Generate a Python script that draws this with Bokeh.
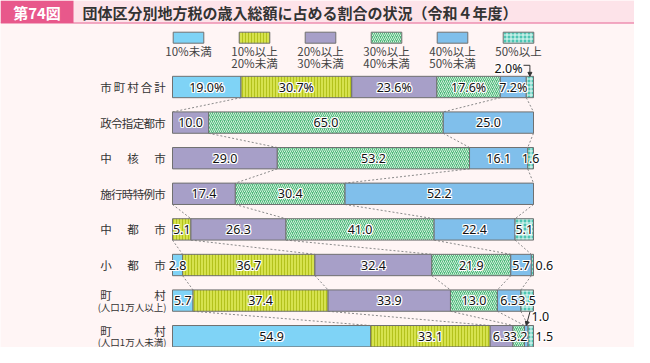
from bokeh.plotting import figure
from bokeh.models import Range1d, ColumnDataSource, Arrow, NormalHead
from bokeh.core.properties import value
from bokeh.embed import file_html
from bokeh.resources import INLINE

# ---------------- data ----------------
title_no = "第74図"
title_text = "団体区分別地方税の歳入総額に占める割合の状況（令和４年度）"
row_label_top = ["市町村合計", "政令指定都市", "中核市", "施行時特例市", "中都市", "小都市", "町村", "町村"]
row_label_sub = ["", "", "", "", "", "", "(人口1万人以上)", "(人口1万人未満)"]
legend_line1 = ["10%未満", "10%以上", "20%以上", "30%以上", "40%以上", "50%以上"]
legend_line2 = ["", "20%未満", "30%未満", "40%未満", "50%未満", ""]

lt10   = [19.0, 0.0, 0.0, 0.0, 0.0, 2.8, 5.7, 54.9]
p10_20 = [30.7, 0.0, 0.0, 0.0, 5.1, 36.7, 37.4, 33.1]
p20_30 = [23.6, 10.0, 29.0, 17.4, 26.3, 32.4, 33.9, 6.3]
p30_40 = [17.6, 65.0, 53.2, 30.4, 41.0, 21.9, 13.0, 3.2]
p40_50 = [7.2, 25.0, 16.1, 52.2, 22.4, 5.7, 6.5, 1.0]
ge50   = [2.0, 0.0, 1.6, 0.0, 5.1, 0.6, 3.5, 1.5]
series = [lt10, p10_20, p20_30, p30_40, p40_50, ge50]

# boundaries (after category k, 1-based) joined by dotted lines between rows
gap_links = [[1, 4, 5], [3, 4, 5], [3, 4, 5], [2, 3, 4, 5], [1, 2, 3, 4, 5], [1, 2, 3, 4, 5], [1, 2, 3, 4, 5]]
# labels drawn outside the bar: (row, category)
outside = {(0, 5), (5, 5), (7, 4), (7, 5)}

# ---------------- layout ----------------
W, H = 634, 347
X0, PXW = 172.0, 3.61      # px of 0 %, px per percent
Y0, ROWH = 86.5, 35.6      # px of first row centre, px per row
BAR_H = 0.6

def fx(px):
    return (px - X0) / PXW

def fy(py):
    return (py - Y0) / ROWH

BG = "#fff5f5"
p = figure(width=W, height=H, output_backend="svg", toolbar_location=None, tools="",
           x_range=Range1d(fx(0), fx(W)), y_range=Range1d(fy(H), fy(0)),
           x_axis_location=None, y_axis_location=None, min_border=0)
p.grid.visible = False
p.outline_line_color = None
p.background_fill_color = BG
p.border_fill_color = BG

JP = value("Noto Sans CJK JP")
NUM = value("Noto Sans")

# title bar
TB_TOP, TB_BOT, TB_MID = 0, 22.5, 11.5
p.quad(left=fx(0), right=fx(W), top=fy(TB_TOP), bottom=fy(TB_BOT), fill_color="#fde3e9", line_color=None)
p.segment(x0=fx(0), x1=fx(W), y0=fy(TB_BOT), y1=fy(TB_BOT), line_color="#ee8fb0", line_width=1.5)
p.quad(left=fx(0), right=fx(73), top=fy(TB_TOP), bottom=fy(TB_BOT), fill_color="#e8588b", line_color=None)
p.text(x=[fx(36.5)], y=[fy(TB_MID)], text=[title_no], text_font=JP, text_font_size="15px",
       text_font_style="bold", text_color="white", text_align="center", text_baseline="middle")
p.text(x=[fx(82)], y=[fy(TB_MID)], text=[title_text], text_font=JP, text_font_size="15px",
       text_font_style="bold", text_color="#333333", text_align="left", text_baseline="middle")

styles = [
    dict(fill_color="#7fd3f6"),
    dict(fill_color="#d6e24e", hatch_pattern="|", hatch_color="#b3c21c", hatch_scale=3, hatch_weight=1),
    dict(fill_color="#a79fc8"),
    dict(fill_color="#4fb97c", hatch_pattern="/", hatch_color="#d2efdb", hatch_scale=4, hatch_weight=1),
    dict(fill_color="#80bfeb"),
    dict(fill_color="#4ec5b3", hatch_pattern="+", hatch_color="#e8fbf7", hatch_scale=4, hatch_weight=1),
]
EDGE = dict(line_color="#707070", line_width=1)

# legend
for i in range(6):
    cx = 188.0 + 66.0 * i
    p.quad(left=fx(cx - 15.3), right=fx(cx + 15.3), top=fy(31.7), bottom=fy(42.7), **styles[i], **EDGE)
    p.text(x=[fx(cx)], y=[fy(50.5)], text=[legend_line1[i]], text_font=JP, text_font_size="11.5px",
           text_color="#444444", text_align="center", text_baseline="middle")
    if legend_line2[i]:
        p.text(x=[fx(cx)], y=[fy(62.8)], text=[legend_line2[i]], text_font=JP, text_font_size="11.5px",
               text_color="#444444", text_align="center", text_baseline="middle")

# cumulative boundaries (normalised to 100)
nrows = len(row_label_top)
cums = []
for r in range(nrows):
    vals = [s[r] for s in series]
    tot = sum(vals)
    c = [0.0]
    for v in vals:
        c.append(c[-1] + v / tot * 100.0)
    cums.append(c)

# dotted connectors
x0s, x1s, y0s, y1s = [], [], [], []
for g, links in enumerate(gap_links):
    for k in links:
        x0s.append(cums[g][k]); y0s.append(g + BAR_H / 2)
        x1s.append(cums[g + 1][k]); y1s.append(g + 1 - BAR_H / 2)
p.segment(x0=x0s, x1=x1s, y0=y0s, y1=y1s, line_color="#8a8a8a", line_width=1, line_dash="2 2")

# bars
for k in range(6):
    ys, ls, rs = [], [], []
    for r in range(nrows):
        if series[k][r] > 0:
            ys.append(r); ls.append(cums[r][k]); rs.append(cums[r][k + 1])
    src = ColumnDataSource(dict(y=ys, left=ls, right=rs))
    p.hbar(y="y", left="left", right="right", height=BAR_H, source=src, **styles[k], **EDGE)

# label helper: white halo + dark text
HALO = [(-1, 0), (1, 0), (0, -1), (0, 1), (-1, -1), (1, 1), (-1, 1), (1, -1)]

def halo_text(xs, ys, texts, align="center", size="12.5px"):
    src = ColumnDataSource(dict(x=xs, y=ys, t=texts))
    for dx, dy in HALO:
        p.text(x="x", y="y", text="t", source=src, x_offset=dx, y_offset=dy, text_font=NUM,
               text_font_size=size, text_color="white", text_align=align, text_baseline="middle")
    p.text(x="x", y="y", text="t", source=src, text_font=NUM, text_font_size=size,
           text_color="#111111", text_align=align, text_baseline="middle")

# inside labels
lx, ly, lt = [], [], []
for r in range(nrows):
    for k in range(6):
        v = series[k][r]
        if v > 0 and (r, k) not in outside:
            lx.append((cums[r][k] + cums[r][k + 1]) / 2)
            ly.append(r)
            lt.append(f"{v:.1f}%" if r == 0 else f"{v:.1f}")
halo_text(lx, ly, lt)

# outside labels + arrows
c0 = (cums[0][5] + cums[0][6]) / 2
halo_text([fx(508)], [-0.5 - 0.03], [f"{ge50[0]:.1f}%"])
y_hook = -0.5 - 0.11
p.line(x=[fx(523), c0, c0], y=[y_hook, y_hook, y_hook + 0.07], line_color="#333333", line_width=1)
p.add_layout(Arrow(end=NormalHead(size=4, fill_color="#333333", line_color="#333333"),
                   x_start=c0, y_start=y_hook + 0.07, x_end=c0, y_end=0 - BAR_H / 2,
                   line_color="#333333", line_width=1))

halo_text([fx(535)], [5], [f"{ge50[5]:.1f}"], align="left")

c7 = (cums[7][4] + cums[7][5]) / 2
halo_text([fx(531)], [7 - 0.55], [f"{p40_50[7]:.1f}"], align="left")
p.add_layout(Arrow(end=NormalHead(size=4, fill_color="#333333", line_color="#333333"),
                   x_start=fx(529.5), y_start=7 - 0.69, x_end=c7, y_end=7 - BAR_H / 2,
                   line_color="#333333", line_width=1))
halo_text([fx(535)], [7], [f"{ge50[7]:.1f}"], align="left")

# row labels (justified between px 100 and 165)
L, R, CW = 100.0, 165.0, 11.0
for r in range(nrows):
    s = row_label_top[r]
    n = len(s)
    yc = r if not row_label_sub[r] else r - 0.16
    xs = [L + CW / 2 + j * (R - L - CW) / (n - 1) for j in range(n)]
    p.text(x=[fx(x) for x in xs], y=[yc] * n, text=list(s), text_font=JP, text_font_size="11.5px",
           text_color="#333333", text_align="center", text_baseline="middle")
    if row_label_sub[r]:
        p.text(x=[fx(131.5)], y=[r + 0.17], text=[row_label_sub[r]], text_font=JP,
               text_font_size="9.5px", text_color="#333333", text_align="center", text_baseline="middle")

open("out.html", "w").write(file_html(p, INLINE))
